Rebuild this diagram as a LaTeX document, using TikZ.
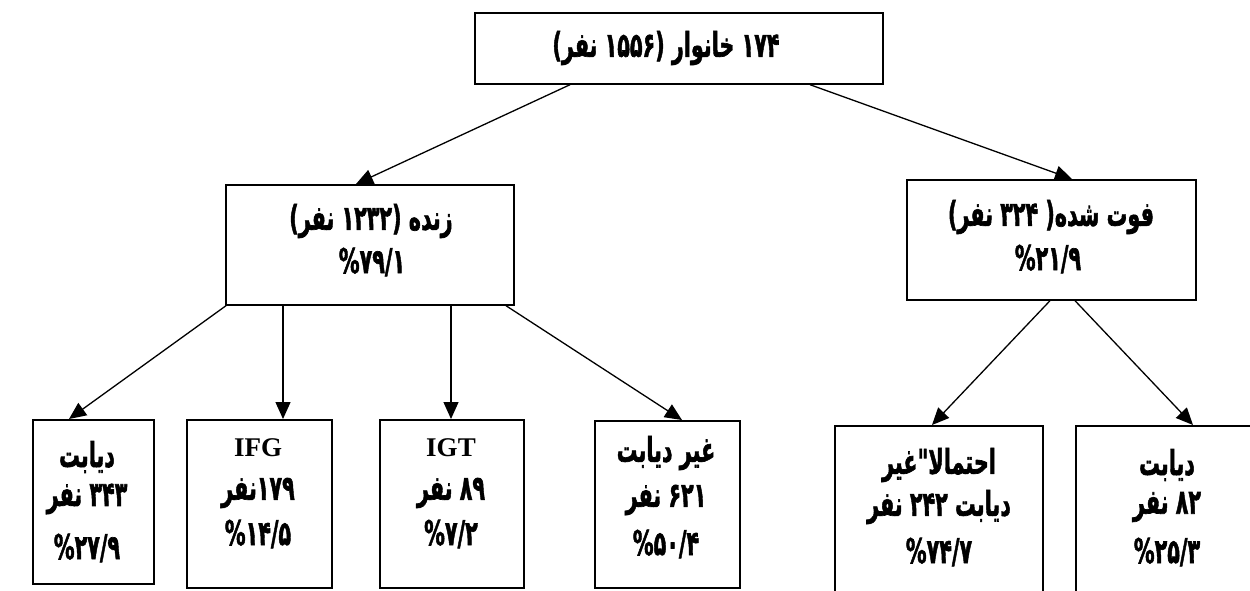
\documentclass[tikz,border=0pt]{standalone}
\usepackage{fontspec}
\usetikzlibrary{arrows.meta}
\TeXXeTstate=1
\newfontfamily\fa[Script=Arabic,BoldFeatures={FakeBold=2}]{DejaVu Sans}
\newfontfamily\lat{Liberation Serif}
\newcommand\sq[1]{\scalebox{0.74}[1.22]{#1}}
\begin{document}
\begin{tikzpicture}[x=1pt,y=-1pt,
  box/.style={draw,line width=1.7pt,inner sep=0pt,anchor=north west},
  arr/.style={line width=1.3pt,-{Triangle[length=17pt,width=15pt]}},
  txt/.style={font=\fa\bfseries\fontsize{28}{32}\selectfont,inner sep=0pt},
  ltx/.style={font=\lat\bfseries\fontsize{27}{30}\selectfont,inner sep=0pt}]
\useasboundingbox (0,0) rectangle (1250,590);
% boxes
\node[box,minimum width=408pt,minimum height=71pt] (top) at (474,12) {};
\node[box,minimum width=288pt,minimum height=120pt] (zinde) at (225,184) {};
\node[box,minimum width=289pt,minimum height=120pt] (foot) at (906,179) {};
\node[box,minimum width=121pt,minimum height=164pt] (b1) at (32,419) {};
\node[box,minimum width=145pt,minimum height=168pt] (b2) at (186,419) {};
\node[box,minimum width=144pt,minimum height=168pt] (b3) at (379,419) {};
\node[box,minimum width=145pt,minimum height=167pt] (b4) at (594,420) {};
\node[box,minimum width=208pt,minimum height=190pt] (b5) at (834,425) {};
\node[box,minimum width=200pt,minimum height=190pt] (b6) at (1075,425) {};
% texts
\node[txt] (t0) at (666,48) {\sq{\beginR ۱۷۴ خانوار (۱۵۵۶ نفر)\endR}};
\node[txt] (z1) at (371,221) {\sq{\beginR زنده (۱۲۳۲ نفر)\endR}};
\node[txt] (z2) at (372,262) {\sq{\%۷۹/۱}};
\node[txt] (f1) at (1051,217) {\sq{\beginR فوت شده( ۳۲۴ نفر)\endR}};
\node[txt] (f2) at (1048,259) {\sq{\%۲۱/۹}};
\node[txt] (b1a) at (87,457) {\sq{\beginR دیابت\endR}};
\node[txt] (b1b) at (87,499) {\sq{\beginR ۳۴۳ نفر\endR}};
\node[txt] (b1c) at (87,548) {\sq{\%۲۷/۹}};
\node[ltx] (b2a) at (258,448) {IFG};
\node[txt] (b2b) at (258,493) {\sq{\beginR ۱۷۹نفر\endR}};
\node[txt] (b2c) at (258,534) {\sq{\%۱۴/۵}};
\node[ltx] (b3a) at (451,448) {IGT};
\node[txt] (b3b) at (451,493) {\sq{\beginR ۸۹ نفر\endR}};
\node[txt] (b3c) at (451,534) {\sq{\%۷/۲}};
\node[txt] (b4a) at (666,453) {\sq{\beginR غیر دیابت\endR}};
\node[txt] (b4b) at (666,500) {\sq{\beginR ۶۲۱ نفر\endR}};
\node[txt] (b4c) at (666,544) {\sq{\%۵۰/۴}};
\node[txt] (b5a) at (939,465) {\sq{\beginR احتمالا"غیر\endR}};
\node[txt] (b5b) at (939,507) {\sq{\beginR دیابت ۲۴۲ نفر\endR}};
\node[txt] (b5c) at (939,552) {\sq{\%۷۴/۷}};
\node[txt] (b6a) at (1167,465) {\sq{\beginR دیابت\endR}};
\node[txt] (b6b) at (1167,507) {\sq{\beginR ۸۲ نفر\endR}};
\node[txt] (b6c) at (1167,552) {\sq{\%۲۵/۳}};
% connectors
\draw[arr] ([xshift=96pt]top.south west) -- ([xshift=131pt]zinde.north west);
\draw[arr] ([xshift=336pt]top.south west) -- ([xshift=166pt]foot.north west);
\draw[arr] ([xshift=1pt]zinde.south west) -- ([xshift=37pt]b1.north west);
\draw[arr] ([xshift=58pt]zinde.south west) -- ([xshift=97pt]b2.north west);
\draw[arr] ([xshift=226pt]zinde.south west) -- ([xshift=72pt]b3.north west);
\draw[arr] ([xshift=281pt]zinde.south west) -- ([xshift=88pt]b4.north west);
\draw[arr] ([xshift=144pt]foot.south west) -- ([xshift=98pt]b5.north west);
\draw[arr] ([xshift=169pt]foot.south west) -- ([xshift=118pt]b6.north west);
\end{tikzpicture}
\end{document}
